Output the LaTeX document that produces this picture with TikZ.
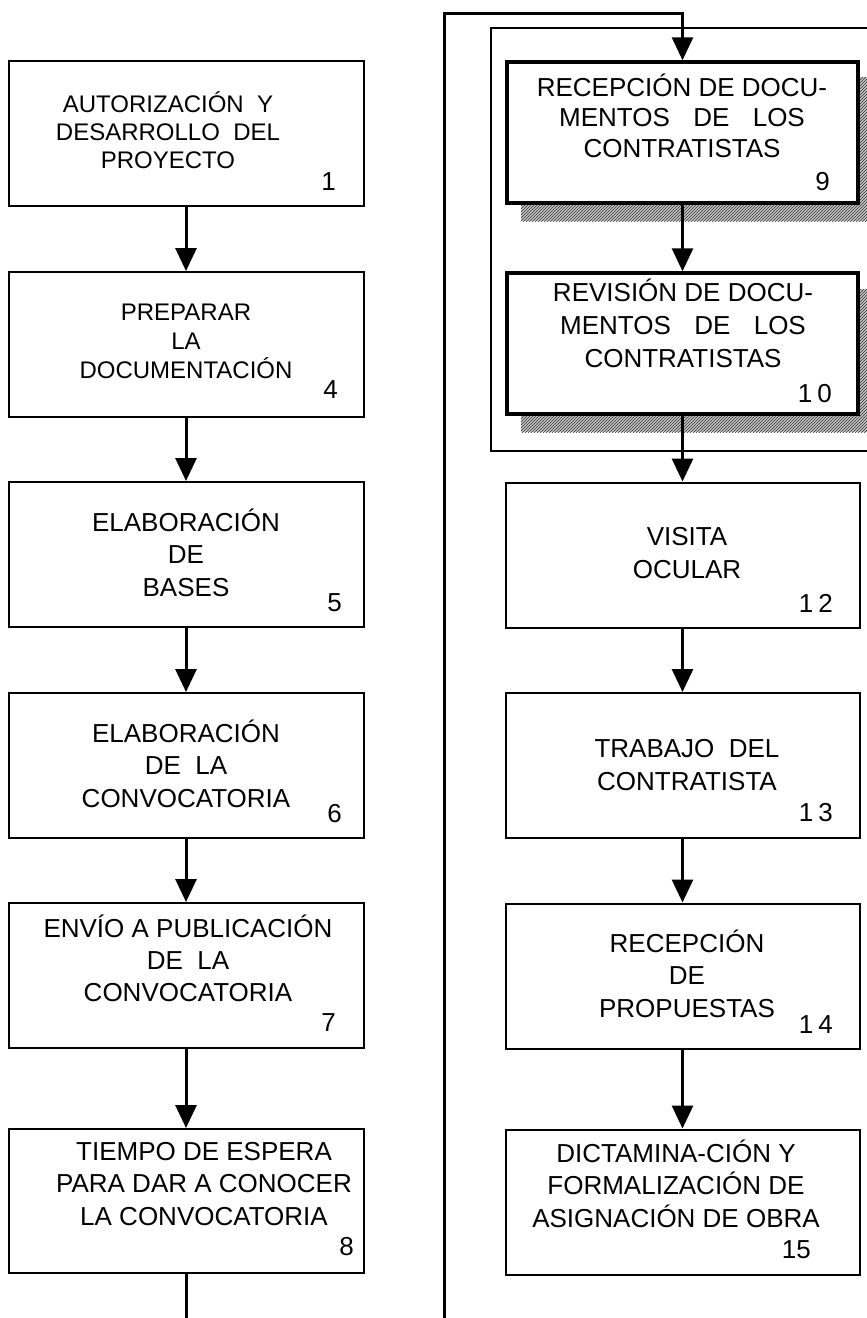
\documentclass[tikz,border=0pt]{standalone}
\usepackage{fontspec}
\setmainfont{Liberation Sans}
\usetikzlibrary{arrows.meta,patterns}
\begin{document}
\begin{tikzpicture}[x=1pt,y=-1pt,
caja/.style={draw, line width=2pt, fill=white, inner sep=0pt, minimum width=355pt, minimum height=145pt},
cajad/.style={caja, line width=3.5pt, minimum width=351pt, minimum height=141pt},
lab/.style={align=center, anchor=base, inner sep=0pt, font=\fontsize{26}{32.5}\selectfont},
num/.style={anchor=base east, inner sep=0pt, font=\fontsize{26}{32.5}\selectfont},
flecha/.style={line width=3pt, -{Triangle[length=23pt,width=21pt]}},
linea/.style={line width=3pt},
sombra/.style={pattern=north east lines, pattern color=black!80, preaction={fill=gray!45}}]
\useasboundingbox (0,0) rectangle (867,1318);

\draw[line width=2pt] (491,28) rectangle (885,451);
\fill[sombra] (521,77) rectangle (875,221);
\fill[sombra] (521,289) rectangle (875,432);

\node[caja] (pid1) at (186,133.5){};
\node[caja] (pid4) at (186,344.5){};
\node[caja] (pid5) at (186,554.5){};
\node[caja] (pid6) at (186,765.5){};
\node[caja] (pid7) at (186,975.5){};
\node[caja, minimum height=144pt] (pid8) at (186,1201){};
\node[cajad] (pid9) at (682.5,132.5){};
\node[cajad] (pid10) at (682.5,343.5){};
\node[caja, minimum width=354pt] (pid12) at (682.5,555){};
\node[caja, minimum width=354pt] (pid13) at (682.5,765.5){};
\node[caja, minimum width=354pt] (pid14) at (682.5,976){};
\node[caja, minimum width=354pt] (pid15) at (682.5,1202){};

\node[lab, font=\fontsize{24}{28}\selectfont] (lab1) at (168,168){AUTORIZACIÓN\ \ Y\\DESARROLLO\ \ DEL\\PROYECTO};
\node[num] (num1) at (336,190){1};
\node[lab, font=\fontsize{24}{29}\selectfont] (lab4) at (186,378){PREPARAR\\LA\\DOCUMENTACIÓN};
\node[num] (num4) at (338,398){4};
\node[lab] (lab5) at (186,596){ELABORACIÓN\\DE\\BASES};
\node[num] (num5) at (342,611){5};
\node[lab] (lab6) at (186,807){ELABORACIÓN\\DE\ \ LA\\CONVOCATORIA};
\node[num] (num6) at (342,822){6};
\node[lab, font=\fontsize{26}{32}\selectfont] (lab7) at (188,1001){ENVÍO A PUBLICACIÓN\\DE\ \ LA\\CONVOCATORIA};
\node[num] (num7) at (336,1031){7};
\node[lab] (lab8) at (204,1225){TIEMPO DE ESPERA\\PARA DAR A CONOCER\\LA CONVOCATORIA};
\node[num] (num8) at (354,1255){8};

\node[lab, font=\fontsize{26}{30.5}\selectfont] (lab9) at (682,157){RECEPCIÓN DE DOCU-\\MENTOS\hspace{0.9em}DE\hspace{0.9em}LOS\\CONTRATISTAS};
\node[num] (num9) at (830,190){9};
\node[lab, font=\fontsize{26}{33}\selectfont] (lab10) at (683,367){REVISIÓN DE DOCU-\\MENTOS\hspace{0.9em}DE\hspace{0.9em}LOS\\CONTRATISTAS};
\node[num] (num10) at (832,402){1\hspace{5pt}0};
\node[lab] (lab12) at (687,578){VISITA\\OCULAR};
\node[num] (num12) at (833,612){1\hspace{5pt}2};
\node[lab] (lab13) at (687,790){TRABAJO\ \ DEL\\CONTRATISTA};
\node[num] (num13) at (833,821){1\hspace{5pt}3};
\node[lab] (lab14) at (687,1017){RECEPCIÓN\\DE\\PROPUESTAS};
\node[num] (num14) at (833,1033){1\hspace{5pt}4};
\node[lab] (lab15) at (676,1227){DICTAMINA-CIÓN Y\\FORMALIZACIÓN DE\\ASIGNACIÓN DE OBRA};
\node[num] (num15) at (811,1258){15};

\coordinate (fin8) at (186,1330);
\coordinate (ini) at (444,1330);
\coordinate (esq) at (444,13);

\draw[flecha](pid1) -- (pid4);
\draw[flecha](pid4) -- (pid5);
\draw[flecha](pid5) -- (pid6);
\draw[flecha](pid6) -- (pid7);
\draw[flecha](pid7) -- (pid8);
\draw[linea](pid8) -- (fin8);
\draw[flecha](ini) -- (esq) -| (pid9);
\draw[flecha](pid9) -- (pid10);
\draw[flecha](pid10) -- (pid12);
\draw[flecha](pid12) -- (pid13);
\draw[flecha](pid13) -- (pid14);
\draw[flecha](pid14) -- (pid15);

\end{tikzpicture}
\end{document}
